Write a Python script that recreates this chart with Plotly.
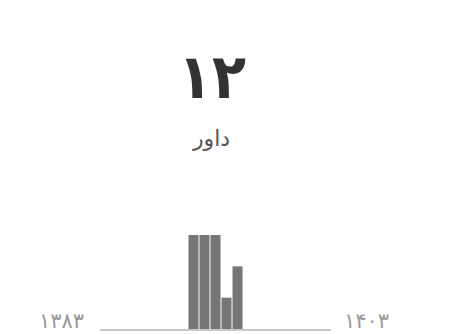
import plotly.graph_objects as go

years = list(range(1383, 1404))
counts = [0, 0, 0, 0, 0, 0, 0, 0, 3, 3, 3, 1, 2, 0, 0, 0, 0, 0, 0, 0, 0]
total_label = "۱۲"
caption = "داور"
start_label = "۱۳۸۳"
end_label = "۱۴۰۳"

W, H = 450, 334
OFF = 8  # page body margin of the exported html

def px(x):
    return (x - OFF) / W

def py(y):
    return 1 - (y - OFF) / H

fig = go.Figure()
fig.add_trace(go.Bar(x=years, y=counts, marker=dict(color="#767676", line=dict(width=0)),
                     hoverinfo="skip"))

fig.update_layout(
    width=W, height=H, margin=dict(l=0, r=0, t=0, b=0),
    paper_bgcolor="white", plot_bgcolor="white", showlegend=False,
    bargap=0.09,
    xaxis=dict(domain=[px(100), px(331)], range=[years[0]-0.5, years[-1]+0.5],
               showgrid=False, zeroline=False, showticklabels=False, ticks="",
               showline=True, linecolor="#c8c8c8", linewidth=2, fixedrange=True),
    yaxis=dict(domain=[py(329), py(235)], range=[0, 3], showgrid=False, zeroline=False,
               showticklabels=False, showline=False, fixedrange=True),
    font=dict(family="DejaVu Sans"),
)
fig.add_annotation(x=px(212), y=py(76), xref="paper", yref="paper", text="<b>" + total_label + "</b>",
                   showarrow=False, font=dict(size=62, color="#333333", family="DejaVu Sans Condensed, DejaVu Sans"),
                   xanchor="center", yanchor="middle")
fig.add_annotation(x=px(211), y=py(138), xref="paper", yref="paper", text=caption,
                   showarrow=False, font=dict(size=22, color="#555555", family="DejaVu Sans"),
                   xanchor="center", yanchor="middle")
fig.add_annotation(x=px(61), y=py(321), xref="paper", yref="paper", text=start_label,
                   showarrow=False, font=dict(size=21, color="#999999", family="DejaVu Sans"),
                   xanchor="center", yanchor="middle")
fig.add_annotation(x=px(366), y=py(321), xref="paper", yref="paper", text=end_label,
                   showarrow=False, font=dict(size=21, color="#999999", family="DejaVu Sans"),
                   xanchor="center", yanchor="middle")
fig.write_html("out.html", config={"displayModeBar": False})
